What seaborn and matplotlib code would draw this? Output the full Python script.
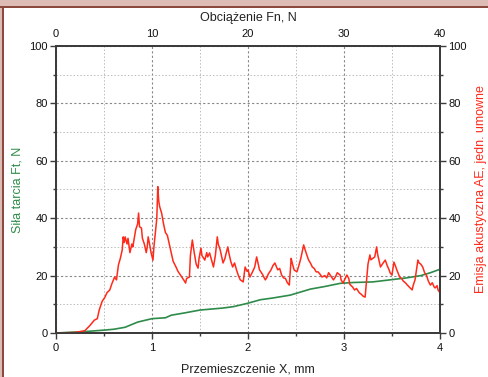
import numpy as np
import pandas as pd
import seaborn as sns
import matplotlib.pyplot as plt
from matplotlib.patches import Rectangle
from matplotlib.ticker import MultipleLocator

sns.set_theme(style='white')
plt.rcParams['font.family'] = ['Liberation Sans', 'DejaVu Sans']

# displacement X [mm] and friction force Ft [N] (green)
x_ft = [0.0, 0.3, 0.5, 0.6, 0.72, 0.85, 1.0, 1.14, 1.2, 1.34, 1.5, 1.74, 1.85, 1.99, 2.13,
        2.26, 2.44, 2.6, 2.65, 2.8, 2.96, 3.1, 3.3, 3.5, 3.65, 3.8, 3.9, 4.0]
ft = [0.0, 0.5, 1.0, 1.3, 2.0, 3.8, 5.0, 5.3, 6.2, 7.0, 8.0, 8.7, 9.2, 10.3, 11.6,
      12.2, 13.2, 14.8, 15.3, 16.2, 17.3, 17.6, 17.8, 18.6, 19.2, 20.0, 21.0, 22.2]

# displacement X [mm] and acoustic emission AE (red)
x_ae = [0.0, 0.2, 0.3, 0.35, 0.4, 0.43, 0.45, 0.48, 0.51, 0.53, 0.56, 0.58, 0.61, 0.63,
        0.65, 0.67, 0.69, 0.7, 0.71, 0.72, 0.74, 0.75, 0.77, 0.79, 0.8, 0.82, 0.83, 0.85,
        0.86, 0.87, 0.89, 0.9, 0.92, 0.94, 0.95, 0.96, 0.98, 0.99, 1.01, 1.02, 1.04, 1.05,
        1.06, 1.07, 1.08, 1.1, 1.12, 1.14, 1.16, 1.18, 1.2, 1.22, 1.25, 1.27, 1.29, 1.31,
        1.33, 1.35, 1.36, 1.39, 1.4, 1.42, 1.44, 1.46, 1.48, 1.49, 1.51, 1.52, 1.55, 1.57,
        1.58, 1.6, 1.62, 1.64, 1.66, 1.68, 1.69, 1.71, 1.74, 1.76, 1.77, 1.79, 1.8, 1.82,
        1.84, 1.86, 1.88, 1.9, 1.92, 1.95, 1.97, 1.99, 2.0, 2.02, 2.05, 2.07, 2.09, 2.1,
        2.12, 2.15, 2.18, 2.2, 2.21, 2.24, 2.26, 2.28, 2.31, 2.33, 2.35, 2.37, 2.39, 2.41,
        2.43, 2.45, 2.46, 2.48, 2.51, 2.53, 2.55, 2.58, 2.59, 2.61, 2.63, 2.65, 2.67, 2.69,
        2.71, 2.73, 2.75, 2.77, 2.8, 2.82, 2.84, 2.86, 2.89, 2.91, 2.93, 2.96, 2.97, 2.99,
        3.01, 3.03, 3.05, 3.06, 3.09, 3.11, 3.13, 3.16, 3.18, 3.2, 3.22, 3.24, 3.25, 3.27,
        3.28, 3.3, 3.32, 3.34, 3.35, 3.36, 3.38, 3.4, 3.41, 3.43, 3.45, 3.47, 3.48, 3.5,
        3.52, 3.54, 3.55, 3.58, 3.6, 3.62, 3.64, 3.66, 3.68, 3.71, 3.72, 3.74, 3.77, 3.78,
        3.8, 3.82, 3.84, 3.86, 3.88, 3.9, 3.92, 3.94, 3.95, 3.97, 3.98, 4.0]
ae = [0.0, 0.2, 0.8, 2.5, 4.5, 5.0, 8.0, 11.0, 12.5, 14.0, 15.0, 17.0, 19.5, 18.5,
      23.7, 26.0, 29.0, 33.5, 31.5, 33.5, 31.0, 33.0, 28.0, 31.0, 30.0, 34.0, 36.0, 38.0,
      41.8, 37.0, 36.6, 33.0, 31.0, 28.0, 30.0, 33.5, 30.0, 28.0, 25.4, 30.0, 36.6, 40.0,
      51.0, 46.0, 44.0, 41.8, 38.0, 35.0, 34.0, 31.0, 28.0, 25.0, 23.0, 21.5, 20.5, 19.5,
      18.5, 17.4, 19.0, 19.5, 27.0, 32.4, 28.0, 24.0, 22.6, 26.0, 29.6, 27.0, 25.4, 28.0,
      26.5, 27.9, 25.5, 23.0, 27.0, 33.5, 31.0, 29.0, 24.4, 26.0, 27.5, 30.0, 28.0, 25.0,
      23.0, 24.4, 22.0, 20.0, 18.5, 17.8, 23.0, 21.5, 22.0, 19.5, 21.5, 23.0, 26.5, 25.0,
      22.0, 20.5, 18.5, 19.5, 20.5, 22.0, 23.5, 24.4, 22.0, 22.5, 20.2, 19.2, 19.0, 17.5,
      16.7, 26.0, 24.5, 22.0, 21.3, 23.5, 26.0, 30.7, 29.5, 27.5, 25.5, 24.4, 23.0, 22.5,
      21.3, 21.3, 20.5, 19.5, 20.0, 19.2, 21.0, 20.0, 18.5, 19.5, 21.0, 20.2, 18.5, 17.4,
      18.8, 20.2, 19.0, 17.0, 16.0, 15.0, 15.5, 14.0, 13.5, 12.8, 12.5, 20.0, 24.0, 27.2,
      25.5, 26.0, 26.5, 30.0, 27.5, 26.0, 23.0, 24.0, 24.5, 25.4, 23.5, 22.0, 21.0, 20.2,
      24.7, 23.0, 22.0, 19.5, 19.0, 18.0, 17.5, 16.7, 16.0, 15.0, 16.5, 18.5, 25.4, 24.5,
      24.0, 23.0, 21.0, 20.0, 18.0, 16.7, 17.5, 16.0, 15.7, 16.5, 15.0, 14.0]

top_ticks = [0, 10, 20, 30, 40]

green = '#2e8b4a'
red = '#ff2a1a'
axis_col = '#3c3c3c'

fig = plt.figure(figsize=(4.88, 3.77), dpi=100)
fig.patch.set_facecolor('white')
ax = fig.add_axes([0.1148, 0.1167, 0.7868, 0.7613])

df_ft = pd.DataFrame({'x': x_ft, 'ft': ft})
df_ae = pd.DataFrame({'x': x_ae, 'ae': ae})

sns.lineplot(data=df_ft, x='x', y='ft', ax=ax, color=green, linewidth=1.2, zorder=3)
ax.set_xlim(0, 4)
ax.set_ylim(0, 100)
ax.xaxis.set_major_locator(MultipleLocator(1))
ax.xaxis.set_minor_locator(MultipleLocator(0.5))
ax.yaxis.set_major_locator(MultipleLocator(20))
ax.yaxis.set_minor_locator(MultipleLocator(10))
ax.grid(which='major', color='#888888', linestyle=(0, (2, 2)), linewidth=0.8)
ax.grid(which='minor', color='#bbbbbb', linestyle=(0, (1.5, 2)), linewidth=0.7)
ax.set_axisbelow(True)
ax.set_xlabel('Przemieszczenie X, mm', fontsize=9, color='#222222', labelpad=7.5)
ax.set_ylabel('Siła tarcia Ft, N', fontsize=9, color=green, labelpad=4)
ax.tick_params(axis='both', which='major', direction='out', length=4, width=1,
               labelsize=8, colors=axis_col, labelcolor='#111111', pad=2)
ax.tick_params(axis='x', which='major', pad=3)
ax.tick_params(axis='both', which='minor', direction='out', length=2.5, width=1,
               colors=axis_col)
ax.tick_params(axis='x', which='both', bottom=True)
ax.tick_params(axis='y', which='both', left=True)
for s in ax.spines.values():
    s.set_color(axis_col)
    s.set_linewidth(1.3)

ax2 = ax.twinx()
sns.lineplot(data=df_ae, x='x', y='ae', ax=ax2, color=red, linewidth=1.1, zorder=3)
ax2.set_ylim(0, 100)
ax2.set_xlim(0, 4)
ax2.yaxis.set_major_locator(MultipleLocator(20))
ax2.yaxis.set_minor_locator(MultipleLocator(10))
ax2.set_ylabel('Emisja akustyczna AE, jedn. umowne', fontsize=9, color=red, labelpad=6,
               rotation=90)
ax2.tick_params(axis='y', which='major', direction='out', length=4, width=1,
                labelsize=8, colors=axis_col, labelcolor='#111111', right=True, pad=2)
ax2.tick_params(axis='y', which='minor', direction='out', length=2.5, width=1,
                colors=axis_col, right=True)
ax2.grid(False)
for s in ax2.spines.values():
    s.set_color(axis_col)
    s.set_linewidth(1.3)

ax3 = ax.twiny()
ax3.set_xlim(0, 40)
ax3.set_xticks(top_ticks)
ax3.xaxis.set_minor_locator(MultipleLocator(5))
ax3.set_xlabel('Obciążenie Fn, N', fontsize=9, color='#222222', labelpad=5.5)
ax3.tick_params(axis='x', which='major', direction='in', length=0, labelsize=8,
                labelcolor='#111111', pad=5)
ax3.tick_params(axis='x', which='minor', length=0)
ax3.grid(False)
for s in ax3.spines.values():
    s.set_color(axis_col)
    s.set_linewidth(1.3)

# window frame (top and left edges)
fig.patches.append(Rectangle((0, 1 - 7 / 377), 1, 7 / 377, transform=fig.transFigure,
                             facecolor='#dcbcb4', edgecolor='none', zorder=0))
fig.patches.append(Rectangle((0, 1 - 8 / 377), 1, 1.6 / 377, transform=fig.transFigure,
                             facecolor='#8c4a3e', edgecolor='none', zorder=1))
fig.patches.append(Rectangle((0, 0), 2 / 488, 1, transform=fig.transFigure,
                             facecolor='#dcbcb4', edgecolor='none', zorder=0))
fig.patches.append(Rectangle((2 / 488, 0), 1.6 / 488, 1 - 7 / 377, transform=fig.transFigure,
                             facecolor='#8c4a3e', edgecolor='none', zorder=1))

fig.savefig('out.png', dpi=100)
